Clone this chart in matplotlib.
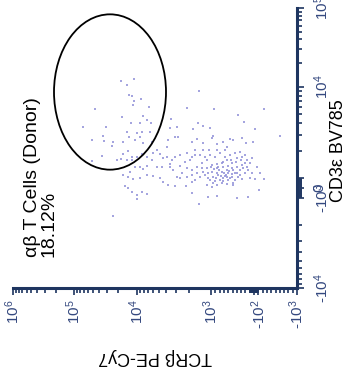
import numpy as np
import matplotlib.pyplot as plt
from matplotlib.patches import Ellipse

plt.rcParams["font.family"] = ["Liberation Sans", "DejaVu Sans"]
plt.rcParams["mathtext.default"] = "regular"

# events, in display channels of the biexponential axes
tcrb_events = [529, 511, 489, 503, 496, 469, 489, 493, 443, 606, 331, 293, 248, 99, 176, 158,
               525, 461, 449, 439, 471, 499, 379, 381, 361, 298, 283, 261, 311, 126, 51, 643,
               573, 583, 615, 579, 551, 554, 511, 503, 481, 486, 466, 441, 436, 461, 471, 521,
               506, 496, 521, 528, 586, 615, 541, 511, 496, 481, 466, 449, 433, 419, 411, 401,
               391, 386, 391, 366, 356, 316, 301, 281, 256, 253, 241, 221, 211, 201, 191, 166,
               153, 131, 216, 241, 263, 281, 306, 331, 351, 366, 376, 381, 406, 421, 436, 449,
               461, 471, 486, 501, 521, 506, 491, 471, 451, 431, 411, 401, 386, 366, 333, 361,
               346, 331, 316, 301, 286, 271, 256, 241, 226, 211, 196, 181, 166, 151, 136, 121,
               111, 99, 126, 141, 156, 171, 186, 196, 206, 221, 236, 251, 266, 281, 291, 306,
               316, 331, 351, 271, 256, 241, 226, 211, 191, 166, 113, 146, 181, 241, 266, 293,
               316, 451, 466, 481, 496, 506, 516, 481, 551, 381, 371, 351, 336, 321, 316, 306,
               291, 276, 261, 246, 231, 216, 201, 186, 171, 156, 141, 151, 166, 181, 196, 211,
               226, 241, 256, 271, 286, 301, 316, 206, 201, 216, 231, 246, 261, 186, 176, 236,
               221, 206, 191, 233, 219, 203, 196, 213, 228, 243, 223, 209, 193, 181, 171, 163,
               249, 259, 266, 276, 239, 223, 199, 183, 169, 156, 146, 136, 253]
cd3_events = [621, 609, 627, 579, 576, 566, 562, 549, 544, 537, 539, 591, 536, 537, 519, 497,
              512, 516, 504, 494, 494, 496, 507, 479, 484, 496, 486, 479, 476, 476, 456, 482,
              482, 456, 444, 441, 439, 426, 469, 452, 464, 444, 469, 469, 439, 434, 454, 439,
              412, 394, 401, 388, 397, 381, 384, 384, 384, 394, 402, 394, 404, 414, 402, 389,
              394, 444, 422, 452, 454, 439, 447, 436, 449, 456, 432, 439, 424, 446, 444, 449,
              436, 439, 414, 414, 414, 414, 414, 406, 399, 394, 384, 372, 364, 362, 384, 366,
              356, 364, 364, 349, 339, 334, 326, 329, 339, 336, 329, 319, 309, 306, 306, 334,
              346, 359, 354, 364, 374, 384, 369, 359, 374, 384, 374, 389, 394, 384, 389, 364,
              344, 326, 328, 329, 344, 354, 344, 334, 324, 329, 339, 334, 344, 349, 334, 324,
              319, 334, 329, 309, 304, 309, 314, 312, 309, 327, 294, 274, 269, 276, 274, 251,
              284, 282, 289, 279, 289, 299, 306, 266, 217, 364, 354, 366, 379, 384, 394, 399,
              399, 394, 399, 394, 404, 394, 399, 404, 409, 399, 374, 364, 369, 364, 359, 354,
              349, 344, 349, 359, 359, 344, 339, 344, 329, 336, 324, 322, 324, 324, 334, 364,
              362, 366, 354, 354, 346, 352, 342, 339, 336, 329, 322, 332, 316, 344, 339, 359,
              356, 362, 329, 339, 372, 379, 384, 379, 384, 374, 354, 344, 316]

# decade anchors (value -> channel) of each axis
tcrb_anchor_vals = [-1e3, 1e3, 1e4, 1e5, 1e6]
tcrb_anchor_chan = [0, 258, 480, 669, 852]
cd3_anchor_vals = [-1e4, -1e3, 1e3, 1e4, 1e5]
cd3_anchor_chan = [0, 270, 330, 603, 840]

tcrb_ticks = [1e6, 1e5, 1e4, 1e3, -1e2, -1e3]
tcrb_labels = ["$10^{6}$", "$10^{5}$", "$10^{4}$", "$10^{3}$", "-$10^{2}$", "-$10^{3}$"]
cd3_ticks = [1e5, 1e4, 0, -1e3, -1e4]
cd3_labels = ["$10^{5}$", "$10^{4}$", "0", "-$10^{3}$", "-$10^{4}$"]

gate_name = "αβ T Cells (Donor)"
gate_pct = 18.12
gate_center = (561, 588)
gate_size = (336, 466)

navy = "#1e3560"
tick_blue = "#34487f"


def biex(v, vals, chans):
    # linear between -1e3 and 1e3, log per decade outside
    def u(x):
        x = np.asarray(x, float)
        a = np.abs(x)
        return np.where(a <= 1e3, x / 1e3,
                        np.sign(x) * (1 + np.log10(np.maximum(a, 1e3) / 1e3)))
    return np.interp(u(v), u(vals), chans)


def minor_vals(pos_decades, neg_decades, tens=True):
    out = []
    for k in pos_decades:
        out += [m * 10 ** k for m in range(2, 10)]
    for k in neg_decades:
        out += [-m * 10 ** k for m in range(2, 10)]
    out += [s * m * 100 for m in range(1, 10) for s in (1, -1)]
    if tens:
        out += [s * m * 10 for m in range(1, 10) for s in (1, -1)]
    return out


fig = plt.figure(figsize=(3.47, 3.76), dpi=100)
ax = fig.add_axes([13 / 347, 88 / 376, 284 / 347, 280 / 376])

ax.scatter(tcrb_events, cd3_events, s=1.6, c="#8f8fd8", marker="s",
           linewidths=0, alpha=0.8)
ax.add_patch(Ellipse(gate_center, gate_size[0], gate_size[1], fill=False,
                     ec="black", lw=1.3))

ax.set_xlim(tcrb_anchor_chan[-1], tcrb_anchor_chan[0])
ax.set_ylim(cd3_anchor_chan[0], cd3_anchor_chan[-1])

for s in ["left", "top"]:
    ax.spines[s].set_visible(False)
for s in ["bottom", "right"]:
    ax.spines[s].set_color(navy)
    ax.spines[s].set_linewidth(2.2)

ax.yaxis.tick_right()
ax.yaxis.set_label_position("right")

ax.set_xticks(biex(tcrb_ticks + [0], tcrb_anchor_vals, tcrb_anchor_chan))
ax.set_xticklabels(tcrb_labels + [""], rotation=90)
ax.set_xticks(biex(minor_vals([3, 4, 5], []), tcrb_anchor_vals, tcrb_anchor_chan), minor=True)
ax.set_yticks(biex(cd3_ticks + [1e3], cd3_anchor_vals, cd3_anchor_chan))
ax.set_yticklabels(cd3_labels + [""], rotation=90, va="center")
ax.set_yticks(biex(minor_vals([3, 4], [3], tens=False), cd3_anchor_vals, cd3_anchor_chan), minor=True)

ax.tick_params(which="both", direction="out", color=navy, labelcolor=tick_blue,
               labelsize=11, width=1.2)
ax.tick_params(which="major", length=5)
ax.tick_params(which="minor", length=3.5)
ax.tick_params(axis="x", which="major", pad=3)
ax.tick_params(axis="y", which="major", pad=6)

ax.set_xlabel("TCRβ PE-Cy7", fontsize=13, rotation=180, va="center")
ax.xaxis.set_label_coords(0.5, -0.246)
ax.set_ylabel("CD3ε BV785", fontsize=13, rotation=90, va="center")
ax.yaxis.set_label_coords(1.145, 0.49)

ax.text(0.0986, 0.111, f"{gate_name}\n{gate_pct:.2f}%", transform=ax.transAxes,
        rotation=90, ha="center", va="bottom", multialignment="left",
        fontsize=14, linespacing=0.95)

fig.savefig("out.png", dpi=100)
